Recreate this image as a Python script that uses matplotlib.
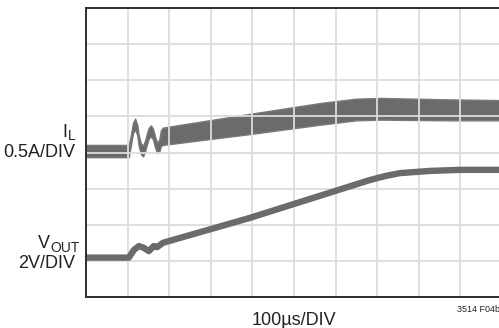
import matplotlib
matplotlib.use("Agg")
import matplotlib.pyplot as plt

# time axis in divisions (100us/DIV), trace levels in screen divisions from bottom
il_x = [0.0, 1.03, 1.08, 1.13, 1.18, 1.23, 1.27, 1.32, 1.37, 1.42, 1.47, 1.51,
        1.56, 1.61, 1.66, 1.71, 1.76, 1.80, 1.85, 3.94, 5.63, 6.49, 7.09,
        8.75, 10.0]
il_mid = [4.04, 4.04, 4.35, 4.68, 4.79, 4.63, 4.32, 4.10, 4.04, 4.18, 4.40, 4.54,
          4.60, 4.51, 4.29, 4.13, 4.18, 4.40, 4.45, 4.79, 5.07, 5.19, 5.21,
          5.18, 5.17]
il_half = [0.17, 0.17, 0.15, 0.15, 0.15, 0.15, 0.15, 0.15, 0.15, 0.15, 0.15, 0.15,
           0.15, 0.15, 0.15, 0.15, 0.17, 0.22, 0.24, 0.28, 0.30, 0.30, 0.30,
           0.29, 0.28]

vout_x = [0.0, 1.03, 1.15, 1.27, 1.39, 1.51, 1.63, 1.71, 1.85, 3.94, 6.83, 7.20,
          7.55, 8.27, 8.99, 10.0]
vout_y = [1.09, 1.09, 1.30, 1.41, 1.36, 1.27, 1.41, 1.38, 1.50, 2.19, 3.24, 3.35,
          3.43, 3.49, 3.52, 3.52]

FONT = ["Liberation Sans Narrow", "Liberation Sans", "DejaVu Sans"]
TRACE = "#6b6b6d"
W, H = 499, 328

fig = plt.figure(figsize=(W / 100, H / 100), dpi=100)
ax = fig.add_axes([86 / W, (H - 297) / H, 416 / W, 289 / H])
ax.set_xlim(0, 10)
ax.set_ylim(0, 8)
ax.set_xticks(range(11))
ax.set_yticks(range(9))
ax.grid(True, color="#dcdcdc", linewidth=1.3)
ax.tick_params(length=0, labelbottom=False, labelleft=False)
for s in ax.spines.values():
    s.set_color("#2e2e2e")
    s.set_linewidth(1.4)

lo = [m - h for m, h in zip(il_mid, il_half)]
hi = [m + h for m, h in zip(il_mid, il_half)]
ax.fill_between(il_x, lo, hi, color=TRACE, linewidth=1.0, edgecolor="#7a7a7c")
ax.plot(vout_x, vout_y, color=TRACE, linewidth=4.6, solid_capstyle="butt",
        solid_joinstyle="round")


def ftext(x, y, s, size, ha="right"):
    fig.text(x / W, 1 - y / H, s, fontsize=size, ha=ha, va="baseline",
             family=FONT, color="#222222")


ftext(67.5, 137, "I", 13)
ftext(68, 140, "L", 10, ha="left")
ftext(75, 157, "0.5A/DIV", 13)
ftext(50, 248, "V", 13)
ftext(50, 252, "OUT", 10, ha="left")
ftext(75, 268, "2V/DIV", 13)
ftext(294, 325, "100\u00b5s/DIV", 13, ha="center")
ftext(457, 312, "3514 F04b", 6.5, ha="left")

fig.savefig("out.png", dpi=100)
